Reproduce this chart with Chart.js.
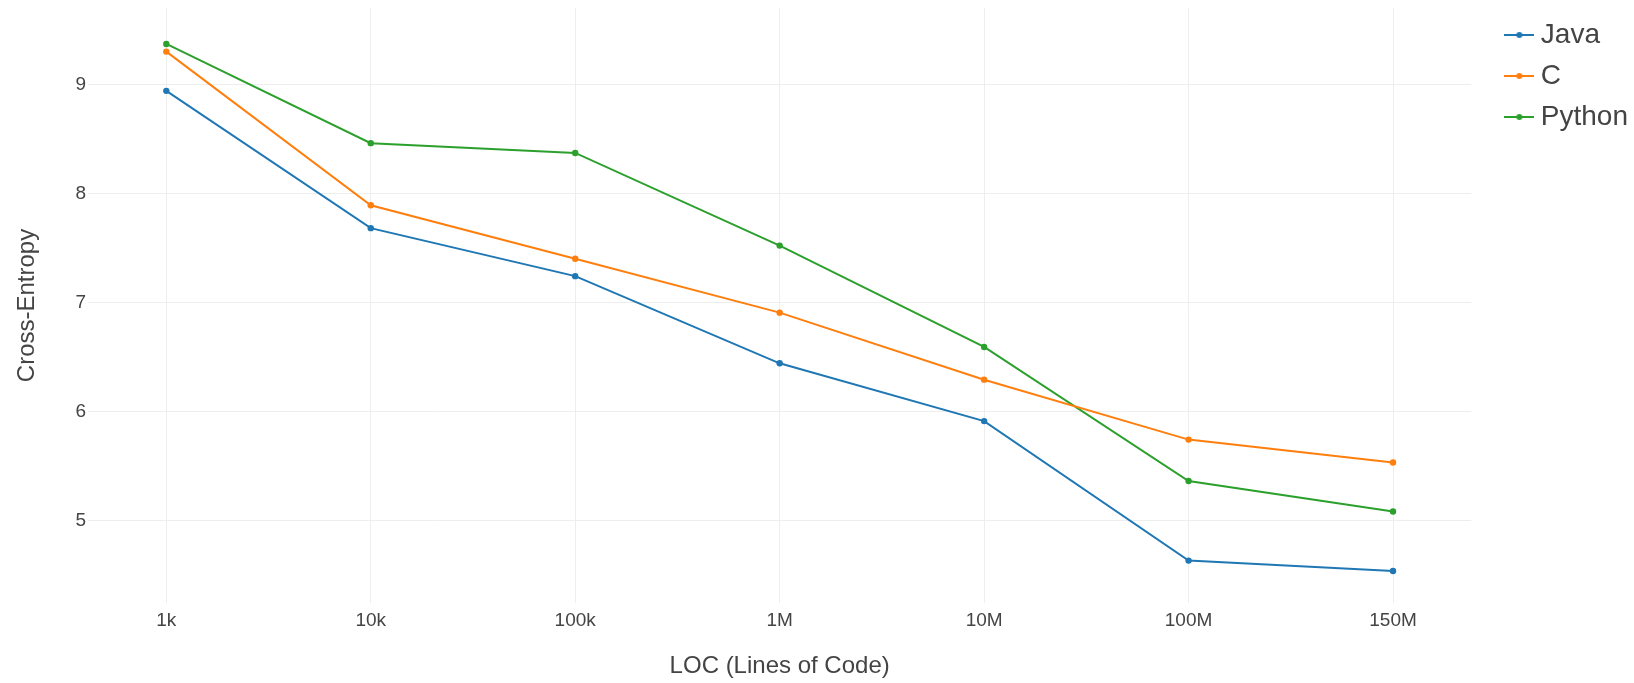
<!DOCTYPE html>
<html><head><meta charset="utf-8">
<script src="https://cdn.jsdelivr.net/npm/chart.js@4/dist/chart.umd.min.js"></script>
<style>html,body{margin:0;padding:0;background:#fff;overflow:hidden;} #wrap{width:1634px;height:683px;}</style>
</head><body><div id="wrap"><canvas id="c" width="1634" height="683"></canvas></div>
<script>
const categories = ['1k', '10k', '100k', '1M', '10M', '100M', '150M'];
const javaValues = [8.94, 7.68, 7.24, 6.44, 5.91, 4.63, 4.535];
const cValues = [9.30, 7.89, 7.40, 6.905, 6.29, 5.74, 5.53];
const pythonValues = [9.37, 8.46, 8.37, 7.52, 6.59, 5.36, 5.08];
const yTickValues = [5, 6, 7, 8, 9];
const seriesNames = ['Java', 'C', 'Python'];
const seriesColors = ['#1f77b4', '#ff7f0e', '#2ca02c'];
const seriesValues = [javaValues, cValues, pythonValues];

function legendIcon(color) {
  const c = document.createElement('canvas');
  c.width = 30; c.height = 10;
  const g = c.getContext('2d');
  g.strokeStyle = color; g.lineWidth = 2;
  g.beginPath(); g.moveTo(0, 5); g.lineTo(30, 5); g.stroke();
  g.fillStyle = color;
  g.beginPath(); g.arc(15, 5, 3, 0, Math.PI * 2); g.fill();
  return c;
}

Chart.defaults.font.family = '"Liberation Sans", Arial, sans-serif';
Chart.defaults.color = '#444';

const datasets = seriesNames.map((name, k) => ({
  label: name,
  data: seriesValues[k].map((v, i) => ({ x: i, y: v })),
  borderColor: seriesColors[k],
  backgroundColor: seriesColors[k],
  borderWidth: 2,
  pointRadius: 3.2,
  pointBorderWidth: 0,
  pointBackgroundColor: seriesColors[k],
  tension: 0,
  fill: false
}));

const icons = seriesColors.map(legendIcon);

new Chart(document.getElementById('c'), {
  type: 'line',
  data: { datasets },
  options: {
    responsive: false,
    devicePixelRatio: 1,
    animation: false,
    layout: { padding: { top: 8, right: -4, bottom: 0, left: 0 } },
    plugins: {
      tooltip: { enabled: false },
      legend: {
        position: 'right',
        align: 'start',
        labels: {
          usePointStyle: true,
          pointStyleWidth: 15,
          padding: 13,
          color: '#444',
          font: { size: 28 },
          generateLabels: (chart) => {
            const items = Chart.defaults.plugins.legend.labels.generateLabels(chart);
            items.forEach((it) => { it.pointStyle = icons[it.datasetIndex]; });
            return items;
          }
        }
      }
    },
    scales: {
      x: {
        type: 'linear',
        min: -0.383,
        max: 6.383,
        afterBuildTicks: (s) => { s.ticks = categories.map((_, i) => ({ value: i })); },
        afterFit: (s) => { s.height = 80; s.paddingLeft = 0; s.paddingRight = 0; },
        ticks: {
          padding: 6,
          autoSkip: false,
          maxRotation: 0,
          font: { size: 19 },
          color: '#444',
          callback: (v) => categories[v]
        },
        grid: { color: '#eeeeee', lineWidth: 1, drawTicks: false },
        border: { display: false },
        title: {
          display: true,
          text: 'LOC (Lines of Code)',
          font: { size: 24 },
          color: '#444',
          padding: { top: 0, bottom: 2 }
        }
      },
      y: {
        type: 'linear',
        position: 'left',
        min: 4.241,
        max: 9.70,
        afterBuildTicks: (s) => { s.ticks = yTickValues.map((v) => ({ value: v })); },
        afterFit: (s) => { s.width = 88; s.paddingTop = 0; s.paddingBottom = 0; },
        ticks: { padding: 2, font: { size: 19 }, color: '#444' },
        grid: { color: '#eeeeee', lineWidth: 1, drawTicks: false },
        border: { display: false },
        title: {
          display: true,
          text: 'Cross-Entropy',
          font: { size: 24 },
          color: '#444',
          padding: { top: 12.6, bottom: 0 }
        }
      },
      spacer: {
        type: 'linear',
        position: 'right',
        display: true,
        ticks: { display: false },
        grid: { display: false },
        border: { display: false },
        afterFit: (s) => { s.width = 27.5; s.paddingTop = 0; s.paddingBottom = 0; }
      }
    }
  }
});
</script>
</body></html>
